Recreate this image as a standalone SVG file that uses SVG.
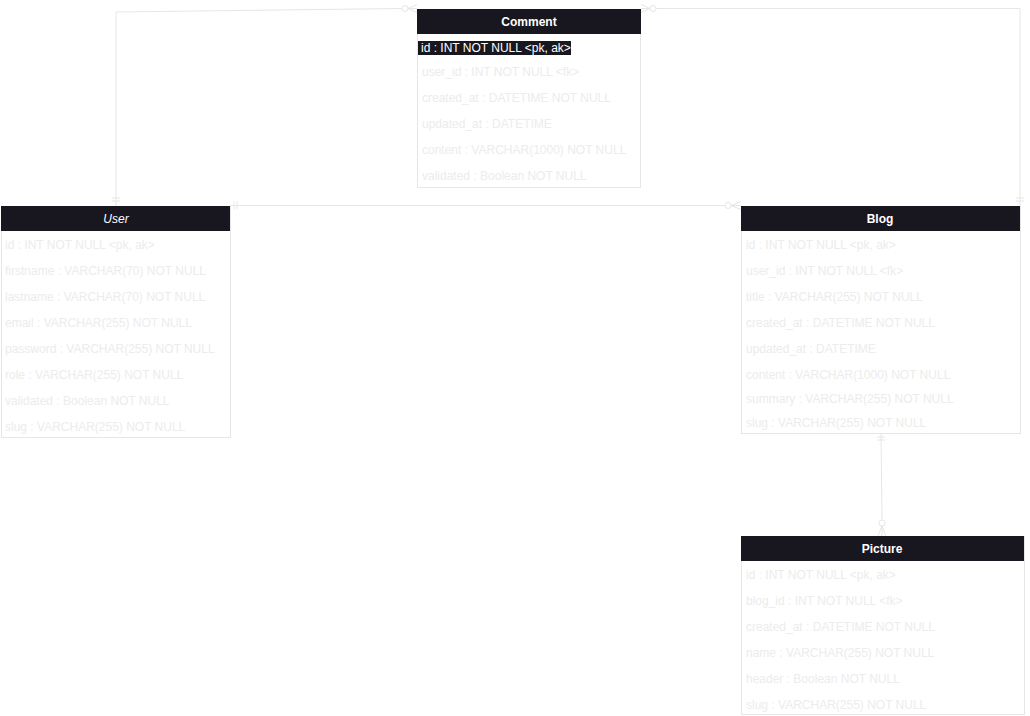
<svg xmlns="http://www.w3.org/2000/svg" width="1030" height="716" viewBox="0 0 1030 716">
<style>
.box{fill:#ffffff;stroke:#e6e6e6;stroke-width:1}
.hdr{fill:#18161f}
.ht{font-family:"Liberation Sans",Arial,sans-serif;font-size:12px;font-weight:bold;fill:#ffffff;text-anchor:middle}
.row{font-family:"Liberation Sans",Arial,sans-serif;font-size:12px;fill:#ececec}
.edge{fill:none;stroke:#e6e6e6;stroke-width:1}
.ci{fill:#ffffff;stroke:#e6e6e6;stroke-width:1}
</style>
<rect width="1030" height="716" fill="#ffffff"/>
<g id="connectors">
  <!-- User to Comment -->
  <polyline class="edge" points="116,206 116,12 402,8.5"/>
  <line class="edge" x1="112" y1="198" x2="120" y2="198"/>
  <line class="edge" x1="112" y1="201" x2="120" y2="201"/>
  <circle class="ci" cx="405" cy="8.5" r="3"/>
  <path class="edge" d="M408,8.5 L417,4.5 M408,8.5 L417,8.5 M408,8.5 L417,12.5"/>
  <!-- Comment to Blog -->
  <path class="edge" d="M641,4.5 L650,8.5 M641,8.5 L650,8.5 M641,12.5 L650,8.5"/>
  <circle class="ci" cx="653" cy="8.5" r="3"/>
  <polyline class="edge" points="656,8.5 1020,8.5 1020,206"/>
  <line class="edge" x1="1016" y1="198" x2="1024" y2="198"/>
  <line class="edge" x1="1016" y1="201" x2="1024" y2="201"/>
  <!-- User to Blog -->
  <line class="edge" x1="230" y1="205.5" x2="725" y2="205.5"/>
  <line class="edge" x1="234" y1="201.5" x2="234" y2="209.5"/>
  <line class="edge" x1="237" y1="201.5" x2="237" y2="209.5"/>
  <circle class="ci" cx="728" cy="205.5" r="3"/>
  <path class="edge" d="M731,205.5 L741,201.5 M731,205.5 L741,205.5 M731,205.5 L741,209.5"/>
  <!-- Blog to Picture -->
  <line class="edge" x1="881" y1="433" x2="882" y2="520"/>
  <line class="edge" x1="877" y1="437" x2="885" y2="437"/>
  <line class="edge" x1="877" y1="440" x2="885" y2="440"/>
  <circle class="ci" cx="882" cy="523" r="3"/>
  <path class="edge" d="M882,526 L878,536 M882,526 L882,536 M882,526 L886,536"/>
</g>
<g id="comment">
  <rect class="box" x="417.5" y="9.5" width="223" height="178"/>
  <rect class="hdr" x="417" y="9" width="224" height="25"/>
  <text class="ht" x="529" y="25.5">Comment</text>
  <rect x="418" y="41" width="153" height="14" fill="#18161f"/>
  <text class="row" x="421" y="52" fill="#ffffff" style="fill:#ffffff">id : INT NOT NULL &lt;pk, ak&gt;</text>
  <text class="row" x="422" y="76">user_id : INT NOT NULL &lt;fk&gt;</text>
  <text class="row" x="422" y="102">created_at : DATETIME NOT NULL</text>
  <text class="row" x="422" y="128">updated_at : DATETIME</text>
  <text class="row" x="422" y="154">content : VARCHAR(1000) NOT NULL</text>
  <text class="row" x="422" y="180">validated : Boolean NOT NULL</text>
</g>
<g id="user">
  <rect class="box" x="1.5" y="206.5" width="229" height="231"/>
  <rect class="hdr" x="1" y="206" width="229" height="25"/>
  <text class="ht" x="116" y="222.5" style="font-weight:normal;font-style:italic">User</text>
  <text class="row" x="5" y="249">id : INT NOT NULL &lt;pk, ak&gt;</text>
  <text class="row" x="5" y="275">firstname : VARCHAR(70) NOT NULL</text>
  <text class="row" x="5" y="301">lastname : VARCHAR(70) NOT NULL</text>
  <text class="row" x="5" y="327">email : VARCHAR(255) NOT NULL</text>
  <text class="row" x="5" y="353">password : VARCHAR(255) NOT NULL</text>
  <text class="row" x="5" y="379">role : VARCHAR(255) NOT NULL</text>
  <text class="row" x="5" y="405">validated : Boolean NOT NULL</text>
  <text class="row" x="5" y="431">slug : VARCHAR(255) NOT NULL</text>
</g>
<g id="blog">
  <rect class="box" x="741.5" y="206.5" width="279" height="227"/>
  <rect class="hdr" x="741" y="206" width="279" height="25"/>
  <text class="ht" x="880" y="222.5">Blog</text>
  <text class="row" x="746" y="249">id : INT NOT NULL &lt;pk, ak&gt;</text>
  <text class="row" x="746" y="275">user_id : INT NOT NULL &lt;fk&gt;</text>
  <text class="row" x="746" y="301">title : VARCHAR(255) NOT NULL</text>
  <text class="row" x="746" y="327">created_at : DATETIME NOT NULL</text>
  <text class="row" x="746" y="353">updated_at : DATETIME</text>
  <text class="row" x="746" y="379">content : VARCHAR(1000) NOT NULL</text>
  <text class="row" x="746" y="403">summary : VARCHAR(255) NOT NULL</text>
  <text class="row" x="746" y="427">slug : VARCHAR(255) NOT NULL</text>
</g>
<g id="picture">
  <rect class="box" x="741.5" y="536.5" width="283" height="178"/>
  <rect class="hdr" x="741" y="536" width="283" height="25"/>
  <text class="ht" x="882" y="552.5">Picture</text>
  <text class="row" x="746" y="579">id : INT NOT NULL &lt;pk, ak&gt;</text>
  <text class="row" x="746" y="605">blog_id : INT NOT NULL &lt;fk&gt;</text>
  <text class="row" x="746" y="631">created_at : DATETIME NOT NULL</text>
  <text class="row" x="746" y="657">name : VARCHAR(255) NOT NULL</text>
  <text class="row" x="746" y="683">header : Boolean NOT NULL</text>
  <text class="row" x="746" y="709">slug : VARCHAR(255) NOT NULL</text>
</g>
</svg>
